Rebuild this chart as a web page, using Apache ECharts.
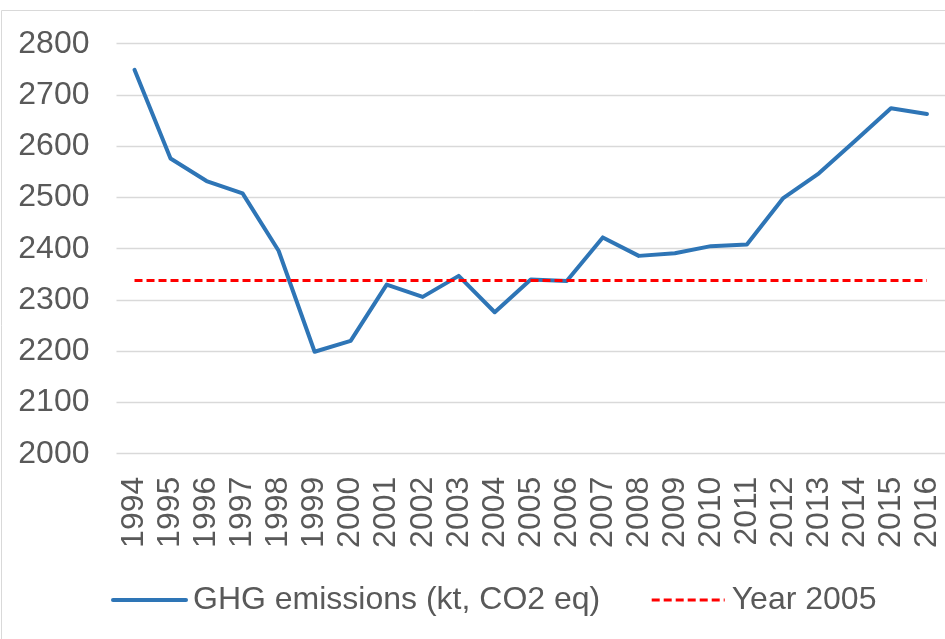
<!DOCTYPE html>
<html>
<head>
<meta charset="UTF-8">
<title>GHG emissions</title>
<style>
    html, body { margin: 0; padding: 0; background: #fff; }
    #chartArea { width: 945px; height: 639px; }
</style>
</head>
<body>
<div id="chartArea"></div>
<script src="https://cdn.jsdelivr.net/npm/echarts@6/dist/echarts.min.js"></script>
<script>
var years = ['1994', '1995', '1996', '1997', '1998', '1999', '2000', '2001', '2002', '2003', '2004',
             '2005', '2006', '2007', '2008', '2009', '2010', '2011', '2012', '2013', '2014', '2015', '2016'];
var ghg = [2749, 2576, 2532, 2508, 2396, 2199, 2220, 2330, 2306, 2347, 2276,
           2340, 2337, 2422, 2386, 2391, 2405, 2408, 2498, 2547, 2610, 2674, 2663];
var year2005 = years.map(function () { return 2338; });
var yTicks = { min: 2000, max: 2800, step: 100 };

var textColor = '#595959';
var font = 'Liberation Sans';
var blue = '#2e75b6';
var red = '#ff0000';

var myChart = echarts.init(document.getElementById('chartArea'));
myChart.setOption({
    animation: false,
    graphic: [{
        type: 'rect',
        shape: { x: 1.5, y: 10.5, width: 1000, height: 700 },
        style: { fill: 'none', stroke: '#d9d9d9', lineWidth: 1 },
        silent: true
    }],
    grid: {
        left: 116.5,
        top: 43.7,
        width: 833,
        height: 410
    },
    legend: {
        left: 106,
        top: 579,
        itemWidth: 73,
        itemHeight: 14,
        itemGap: 50,
        itemStyle: { opacity: 0 },
        textStyle: { color: textColor, fontSize: 32, fontFamily: font, padding: [0, 0, 0, 2] },
        data: [
            { name: 'GHG emissions (kt, CO2 eq)', lineStyle: { color: blue, width: 4, cap: 'round' } },
            { name: 'Year 2005', lineStyle: { color: red, width: 3, type: [8, 4] } }
        ]
    },
    xAxis: {
        type: 'category',
        data: years,
        boundaryGap: true,
        axisLine: { show: false },
        axisTick: { show: false },
        axisLabel: {
            interval: 0,
            rotate: 90,
            margin: 23,
            color: textColor,
            fontSize: 32,
            fontFamily: font
        }
    },
    yAxis: {
        type: 'value',
        min: yTicks.min,
        max: yTicks.max,
        interval: yTicks.step,
        axisLine: { show: false },
        axisTick: { show: false },
        axisLabel: {
            margin: 27,
            color: textColor,
            fontSize: 32,
            fontFamily: font,
            formatter: function (v) { return String(v); }
        },
        splitLine: { lineStyle: { color: '#d9d9d9', width: 1.3 } }
    },
    series: [{
        name: 'GHG emissions (kt, CO2 eq)',
        type: 'line',
        data: ghg,
        symbol: 'none',
        itemStyle: { color: blue },
        lineStyle: { color: blue, width: 4, cap: 'round', join: 'round' }
    }, {
        name: 'Year 2005',
        type: 'line',
        data: year2005,
        symbol: 'none',
        itemStyle: { color: red },
        lineStyle: { color: red, width: 3, type: [8, 4] }
    }]
});
</script>
</body>
</html>
